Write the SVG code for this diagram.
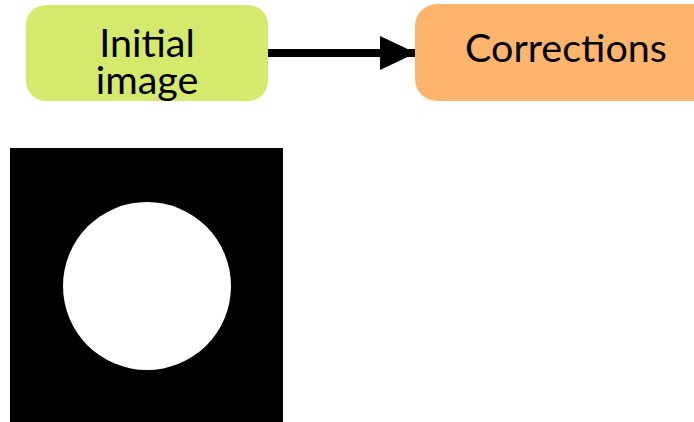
<svg xmlns="http://www.w3.org/2000/svg" width="694" height="422" viewBox="0 0 694 422">
  <defs>
    <style>
      .label { font-family: Lato, "Liberation Sans", sans-serif; font-size: 39.5px; fill: #000; text-anchor: middle; }
      .edge { stroke: #000; stroke-width: 8; fill: none; }
    </style>
    <marker id="arrow" markerUnits="userSpaceOnUse" markerWidth="36" markerHeight="34" refX="35" refY="17" orient="auto">
      <path d="M0,0 L36,17 L0,34 Z" fill="#000"/>
    </marker>
  </defs>
  <rect width="694" height="422" fill="#fff"/>

  <g id="connectors">
    <line class="edge" x1="268" y1="53" x2="415" y2="53" marker-end="url(#arrow)"/>
  </g>

  <g id="initial-image">
    <rect x="26" y="5" width="242" height="96" rx="20" ry="20" fill="#d5e96c"/>
    <text class="label" x="147" y="57">Initial<tspan x="147" dy="37">image</tspan></text>
  </g>

  <g id="corrections">
    <rect x="415" y="4" width="300" height="97" rx="22" ry="22" fill="#fdb46c"/>
    <text class="label" x="566" y="62">Corrections</text>
  </g>

  <g id="sample-image">
    <rect x="10" y="148" width="273" height="274" fill="#000"/>
    <circle cx="147" cy="286" r="84" fill="#fff"/>
  </g>
</svg>
